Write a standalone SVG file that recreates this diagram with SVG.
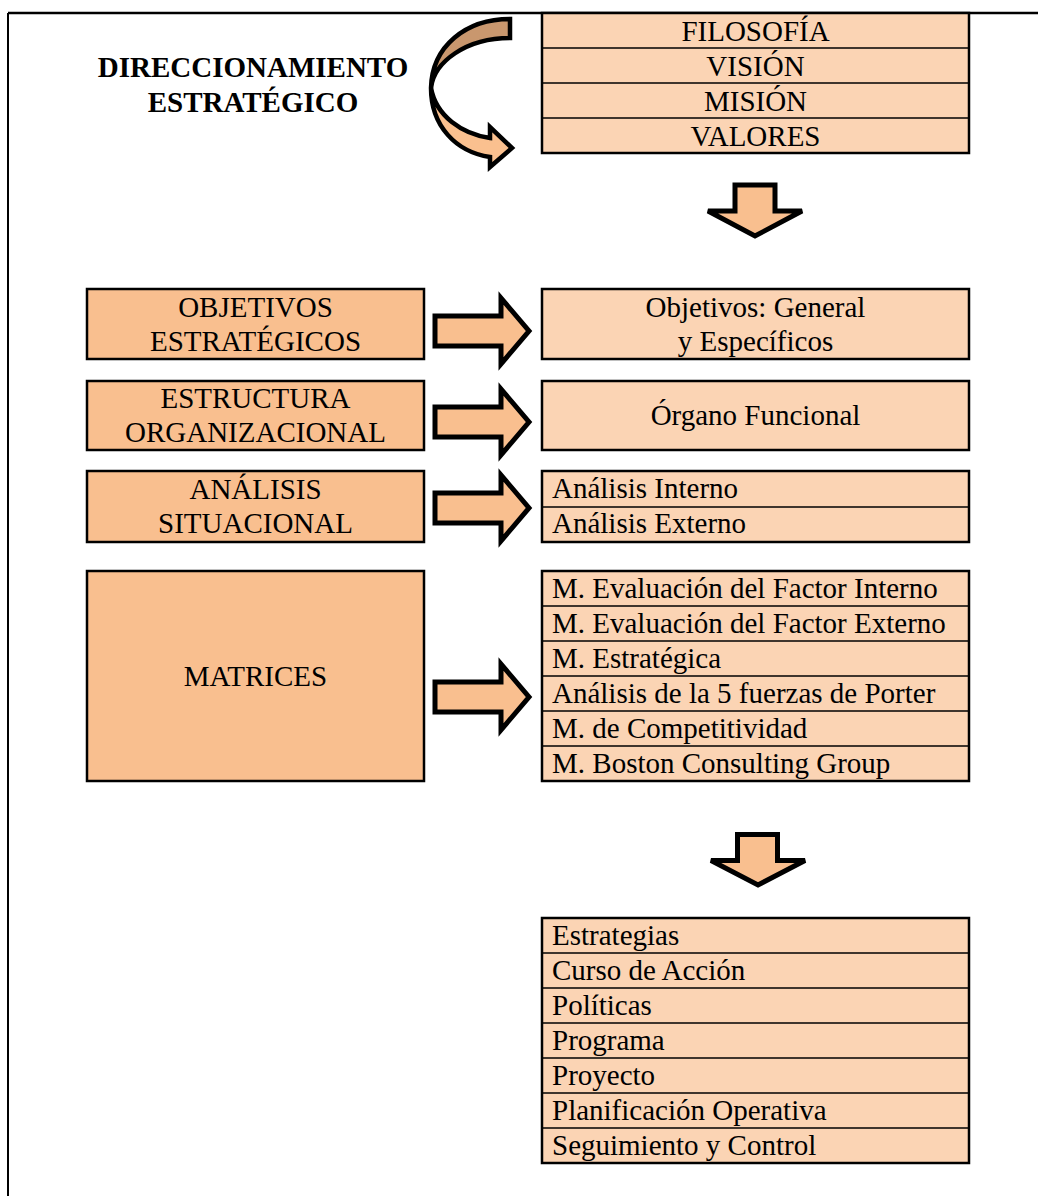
<svg xmlns="http://www.w3.org/2000/svg" width="1038" height="1196" viewBox="0 0 1038 1196">
<style>
text{font-family:"Liberation Serif","Times New Roman",serif;font-size:29px;fill:#000}
.c{text-anchor:middle}
.b{font-weight:bold}
.dark{fill:#F9BF8F;stroke:#000;stroke-width:2.5}
.light{fill:#FBD4B4;stroke:#000;stroke-width:2.5}
.div{stroke:#000;stroke-width:1.5}
.arr{fill:#F9BF8F;stroke:#000;stroke-width:5;stroke-linejoin:miter}
</style>
<rect width="1038" height="1196" fill="#fff"/>
<g id="frame">
<line x1="8" y1="13" x2="1038" y2="13" stroke="#000" stroke-width="2.5"/>
<line x1="8" y1="13" x2="8" y2="1196" stroke="#000" stroke-width="2"/>
</g>
<g id="title">
<text class="c b" x="253" y="77">DIRECCIONAMIENTO</text>
<text class="c b" x="253" y="112">ESTRATÉGICO</text>
</g>
<g id="top-list">
<rect class="light" x="542" y="13" width="427" height="140"/>
<line class="div" x1="542" y1="48" x2="969" y2="48"/>
<line class="div" x1="542" y1="83" x2="969" y2="83"/>
<line class="div" x1="542" y1="118" x2="969" y2="118"/>
<text class="c" x="755.5" y="41">FILOSOFÍA</text>
<text class="c" x="755.5" y="76">VISIÓN</text>
<text class="c" x="755.5" y="111">MISIÓN</text>
<text class="c" x="755.5" y="146">VALORES</text>
</g>
<g id="objetivos">
<rect class="dark" x="87" y="289" width="337" height="70"/>
<text class="c" x="255.5" y="317">OBJETIVOS</text>
<text class="c" x="255.5" y="351">ESTRATÉGICOS</text>
</g>
<g id="objetivos-detalle">
<rect class="light" x="542" y="289" width="427" height="70"/>
<text class="c" x="755.5" y="317">Objetivos: General</text>
<text class="c" x="755.5" y="351">y Específicos</text>
</g>
<g id="estructura">
<rect class="dark" x="87" y="381" width="337" height="69"/>
<text class="c" x="255.5" y="408">ESTRUCTURA</text>
<text class="c" x="255.5" y="442">ORGANIZACIONAL</text>
</g>
<g id="organo">
<rect class="light" x="542" y="381" width="427" height="69"/>
<text class="c" x="755.5" y="425">Órgano Funcional</text>
</g>
<g id="analisis">
<rect class="dark" x="87" y="471" width="337" height="71"/>
<text class="c" x="255.5" y="499">ANÁLISIS</text>
<text class="c" x="255.5" y="533">SITUACIONAL</text>
</g>
<g id="analisis-detalle">
<rect class="light" x="542" y="471" width="427" height="71"/>
<line class="div" x1="542" y1="507" x2="969" y2="507"/>
<text x="552" y="498">Análisis Interno</text>
<text x="552" y="533">Análisis Externo</text>
</g>
<g id="matrices">
<rect class="dark" x="87" y="571" width="337" height="210"/>
<text class="c" x="255.5" y="686">MATRICES</text>
</g>
<g id="matrices-detalle">
<rect class="light" x="542" y="571" width="427" height="210"/>
<line class="div" x1="542" y1="606" x2="969" y2="606"/>
<line class="div" x1="542" y1="641" x2="969" y2="641"/>
<line class="div" x1="542" y1="676" x2="969" y2="676"/>
<line class="div" x1="542" y1="711" x2="969" y2="711"/>
<line class="div" x1="542" y1="746" x2="969" y2="746"/>
<text x="552" y="598">M. Evaluación del Factor Interno</text>
<text x="552" y="633">M. Evaluación del Factor Externo</text>
<text x="552" y="668">M. Estratégica</text>
<text x="552" y="703">Análisis de la 5 fuerzas de Porter</text>
<text x="552" y="738">M. de Competitividad</text>
<text x="552" y="773">M. Boston Consulting Group</text>
</g>
<g id="acciones">
<rect class="light" x="542" y="918" width="427" height="245"/>
<line class="div" x1="542" y1="953" x2="969" y2="953"/>
<line class="div" x1="542" y1="988" x2="969" y2="988"/>
<line class="div" x1="542" y1="1023" x2="969" y2="1023"/>
<line class="div" x1="542" y1="1058" x2="969" y2="1058"/>
<line class="div" x1="542" y1="1093" x2="969" y2="1093"/>
<line class="div" x1="542" y1="1128" x2="969" y2="1128"/>
<text x="552" y="945">Estrategias</text>
<text x="552" y="980">Curso de Acción</text>
<text x="552" y="1015">Políticas</text>
<text x="552" y="1050">Programa</text>
<text x="552" y="1085">Proyecto</text>
<text x="552" y="1120">Planificación Operativa</text>
<text x="552" y="1155">Seguimiento y Control</text>
</g>
<g id="connectors">
<g id="curved-arrow" stroke="#000" stroke-width="4.5" stroke-linejoin="miter">
<path d="M510,19 C466,19 432,46 431,88 C434,62 466,38 510,38 Z" fill="#C9976E"/>
<path d="M431,88 C431,126 456,152 490,157 L490,167 L512,148 L490,127 L490,138 C462,134 436,116 431,88 Z" fill="#FAC08F"/>
</g>
<path class="arr" d="M735,185 H775 V211 H802 L755,236 L708,211 H735 Z"/>
<path class="arr" d="M435,316 H501 V298 L529,331 L501,364 V346 H435 Z"/>
<path class="arr" d="M435,407 H501 V389 L529,422 L501,455 V437 H435 Z"/>
<path class="arr" d="M435,493 H501 V475 L529,508 L501,541 V523 H435 Z"/>
<path class="arr" d="M435,682 H501 V664 L529,697 L501,730 V712 H435 Z"/>
<path class="arr" d="M737.5,834.5 H777.5 V860.5 H805 L758,885 L711,860.5 H737.5 Z"/>
</g>
</svg>
